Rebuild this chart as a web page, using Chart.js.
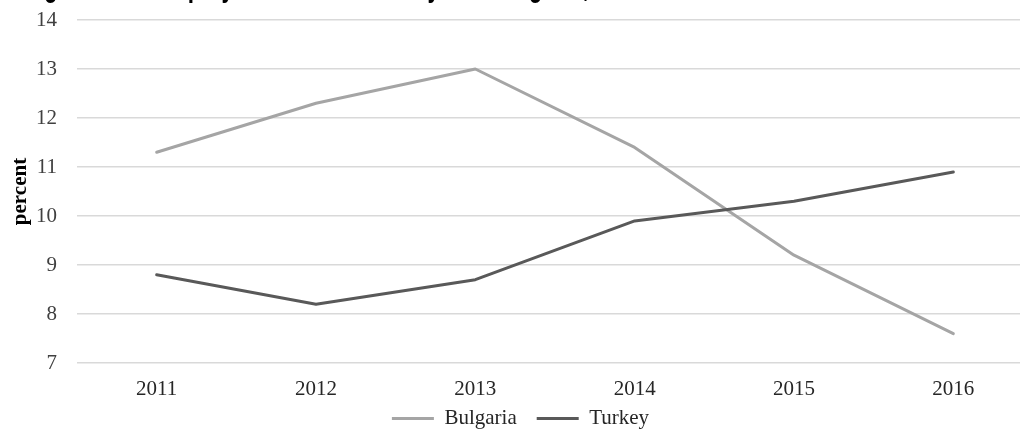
<!DOCTYPE html>
<html>
<head>
<meta charset="utf-8">
<script src="https://cdn.jsdelivr.net/npm/chart.js@4.4.1/dist/chart.umd.min.js"></script>
<style>
  html, body { margin: 0; padding: 0; background: #ffffff; overflow: hidden; width: 1020px; height: 431px; }
  #wrap { position: absolute; left: 0; top: 0; width: 1040px; height: 431px; }
  #caption {
    position: absolute; left: 24px; top: -33.5px; white-space: nowrap;
    font: bold 34px "Liberation Sans", Arial, sans-serif; line-height: 34px; color: #000;
    transform-origin: 0 0; transform: scaleX(0.662);
  }
</style>
</head>
<body>
<div id="wrap"><canvas id="chart"></canvas></div>
<div id="caption">Figure 4: Unemployment rate in Turkey and Bulgaria, 2011-2016</div>
<script>
// Unemployment rate, percent
const years = ["2011", "2012", "2013", "2014", "2015", "2016"];
const bulgaria = [11.3, 12.3, 13.0, 11.4, 9.2, 7.6];
const turkey = [8.8, 8.2, 8.7, 9.9, 10.3, 10.9];
const yTicks = [7, 8, 9, 10, 11, 12, 13, 14];

const serif = '"Liberation Serif", "Times New Roman", serif';
const LEGEND_HEIGHT = 28;
const LEGEND_LIFT = 15;

// legend sits tight under the year labels, with wide gaps between its items
const compactLegend = {
  id: "compactLegend",
  beforeUpdate(chart) {
    const lg = chart.legend;
    if (lg && !lg._compact) {
      const fit = lg.fit.bind(lg);
      lg.fit = function () { fit(); this.height = LEGEND_HEIGHT; };
      lg._compact = true;
    }
  },
  afterLayout(chart) {
    const lg = chart.legend;
    if (lg) { lg.top -= LEGEND_LIFT; }
  }
};

new Chart(document.getElementById("chart"), {
  type: "line",
  data: {
    labels: years,
    datasets: [
      { label: "Bulgaria", data: bulgaria, borderColor: "#a5a5a5", backgroundColor: "#a5a5a5",
        borderWidth: 3, pointRadius: 0, tension: 0, order: 1, borderCapStyle: "round", borderJoinStyle: "round" },
      { label: "Turkey", data: turkey, borderColor: "#595959", backgroundColor: "#595959",
        borderWidth: 3, pointRadius: 0, tension: 0, order: 0, borderCapStyle: "round", borderJoinStyle: "round" }
    ]
  },
  plugins: [compactLegend],
  options: {
    responsive: true,
    maintainAspectRatio: false,
    animation: false,
    layout: { padding: { left: 8, right: 7, top: 20, bottom: 0 } },
    plugins: {
      tooltip: { enabled: false },
      legend: {
        position: "bottom",
        labels: {
          usePointStyle: true,
          pointStyle: "line",
          pointStyleWidth: 42,
          padding: 20,
          color: "#262626",
          font: { family: serif, size: 21, lineHeight: 1 },
          sort: (a, b) => a.datasetIndex - b.datasetIndex
        }
      }
    },
    scales: {
      x: {
        offset: true,
        grid: { display: false, drawTicks: false },
        border: { display: false },
        ticks: { color: "#262626", font: { family: serif, size: 21 }, padding: 14 },
        afterFit: (s) => { s.height = 40; }
      },
      y: {
        min: yTicks[0],
        max: yTicks[yTicks.length - 1],
        afterBuildTicks: (s) => { s.ticks = yTicks.map(v => ({ value: v })); },
        grid: { color: "#d9d9d9", lineWidth: 1.5, drawTicks: false },
        border: { display: false },
        ticks: { color: "#404040", font: { family: serif, size: 21 }, padding: 20 },
        title: { display: true, text: "percent", color: "#000", font: { family: serif, size: 21, weight: "bold" }, padding: 0 },
        afterFit: (s) => { s.width = 69; s.paddingTop = 0; s.paddingBottom = 0; }
      }
    }
  }
});
</script>
</body>
</html>
